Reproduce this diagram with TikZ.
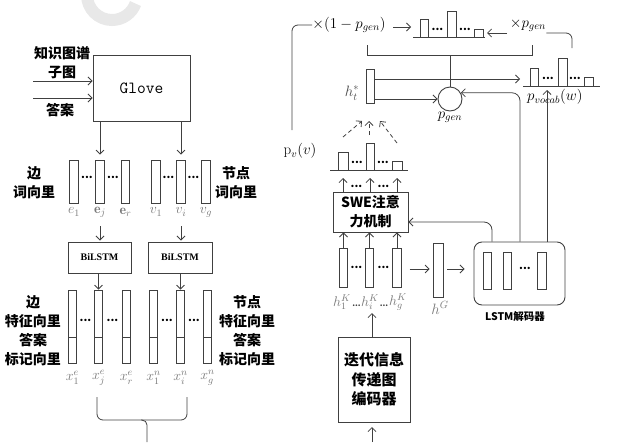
\RequirePackage{fix-cm}
\documentclass[tikz,border=0pt]{standalone}
\usepackage{fontspec}
\newfontfamily\cjk{Noto Sans CJK SC}
\newfontfamily\serf{Liberation Serif}
\usetikzlibrary{arrows.meta,calc}
\definecolor{ln}{HTML}{404040}
\definecolor{lab}{HTML}{7A7A7A}
\tikzset{
  arr/.style={draw=ln, line width=0.8pt, -{Straight Barb[length=4pt,width=8pt]}},
  ln/.style={draw=ln, line width=0.8pt},
  dsh/.style={draw=ln, line width=0.8pt, dash pattern=on 4pt off 3pt, -{Straight Barb[length=4pt,width=8pt]}},
  vec/.style={draw=ln, line width=0.8pt, rectangle, inner sep=0pt, minimum width=8.5pt},
  boxn/.style={draw=ln, line width=0.9pt, rectangle, inner sep=0pt},
  zh/.style={font=\cjk\bfseries\fontsize{14}{19}\selectfont, align=center, inner sep=0pt},
  lbl/.style={text=lab, inner sep=0pt, font=\fontsize{14}{16}\selectfont},
  mth/.style={inner sep=0pt, font=\fontsize{15}{17}\selectfont},
  dts/.style={inner sep=0pt, font=\cjk\bfseries\fontsize{11}{12}\selectfont},
  bar/.style={draw=ln, line width=0.8pt},
}
\begin{document}
\begin{tikzpicture}[x=1pt,y=-1pt]
\useasboundingbox (0,0) rectangle (623,442);
% watermark
\draw[line width=12pt, black!9] (87,-5) arc[start angle=180, end angle=20, radius=25];

% ---------------- left part ----------------
\node[boxn, minimum width=97pt, minimum height=66pt, font=\ttfamily\fontsize{17}{19}\selectfont] (glove) at (141.5,88) {Glove};
\node[zh] (lkg) at (62,62.5) {知识图谱\\子图};
\node[zh] (lans) at (60,110) {答案};
\coordinate (kgin) at (33,81);
\coordinate (ansin) at (33,98);
\draw[arr] (kgin) -- (kgin -| glove.west);
\draw[arr] (ansin) -- (ansin -| glove.west);

% word vectors
\foreach \n/\x in {e1/74, ej/100, er/125.5, v1/156, vi/181, vg/206}
  \node[vec, minimum height=43pt] (\n) at (\x,181.5) {};
\foreach \n/\x in {d1/87, d2/113, d3/168.5, d4/193.5}
  \node[dts] (\n) at (\x,177) {...};
\node[lbl] (e1l) at (74,212) {$e_1$};
\node[lbl] (ejl) at (100,212) {$\mathbf{e}_j$};
\node[lbl] (erl) at (125.5,212) {$\mathbf{e}_r$};
\node[lbl] (v1l) at (156,212) {$v_1$};
\node[lbl] (vil) at (181,212) {$v_i$};
\node[lbl] (vgl) at (206,212) {$v_g$};
\node[zh] (ledge) at (34,182.5) {边\\词向里};
\node[zh] (lnode) at (236,182.5) {节点\\词向里};
\draw[arr, shorten >=5pt] (glove.south -| ej.north) -- (ej.north);
\draw[arr, shorten >=5pt] (glove.south -| vi.north) -- (vi.north);

% BiLSTM
\node[boxn, minimum width=63pt, minimum height=31pt, font=\serf\bfseries\fontsize{10}{12}\selectfont] (bl1) at (99.5,257.5) {BiLSTM};
\node[boxn, minimum width=64pt, minimum height=31pt, font=\serf\bfseries\fontsize{10}{12}\selectfont] (bl2) at (180,257.5) {BiLSTM};
\coordinate (a1) at (100,226);
\coordinate (a2) at (181,226);
\draw[arr, shorten >=1pt] (a1) -- (a1 |- bl1.north);
\draw[arr, shorten >=1pt] (a2) -- (a2 |- bl2.north);

% feature vectors
\foreach \n/\x in {x1/72.5, xj/98.5, xr/126.5, n1/153.5, ni/180.5, ng/207.5}{
  \node[vec, minimum height=73pt] (\n) at (\x,326.5) {};
  \draw[ln] (\x-4.25,337) -- (\x+4.25,337);
}
\draw[arr] (bl1.south -| xj.north) -- (xj.north);
\draw[arr] (bl2.south -| ni.north) -- (ni.north);
\foreach \n/\x in {f1/85.5, f2/112.5, f3/167, f4/194}
  \node[dts] (\n) at (\x,320) {...};
\node[lbl] (x1l) at (72.5,378) {$x_1^e$};
\node[lbl] (xjl) at (98.5,378) {$x_j^e$};
\node[lbl] (xrl) at (126.5,378) {$x_r^e$};
\node[lbl] (n1l) at (153.5,378) {$x_1^n$};
\node[lbl] (nil) at (180.5,378) {$x_i^n$};
\node[lbl] (ngl) at (207.5,378) {$x_g^n$};
\node[zh] (lfe) at (33,331) {边\\特征向里\\答案\\标记向里};
\node[zh] (lfn) at (247,331) {节点\\特征向里\\答案\\标记向里};

% bottom bracket
\coordinate (bl) at (97,397);
\coordinate (br) at (187,397);
\coordinate (bm) at (147,442);
\draw[ln, rounded corners=6pt] (bl) |- (br |- 0,420) -- (br);
\draw[ln, rounded corners=5pt] (141,420) -| (bm);

% ---------------- right part ----------------
% top distribution and multipliers
\node[mth] (tm1) at (349,25) {$\times(1-p_{gen})$};
\node[mth] (tm2) at (528,25) {$\times p_{gen}$};
\draw[ln] (413,37) -- (485,37);
\draw[bar] (420,19) rectangle (428,37);
\draw[bar] (447,11) rectangle (456,37);
\draw[bar] (474,29) rectangle (483,37);
\node[dts] (t1) at (437.5,29) {...};
\node[dts] (t2) at (465,29) {...};
\coordinate (ta1) at (393,27);
\coordinate (ta2) at (411,27);
\draw[arr] (ta1) -- (ta2);
\coordinate (tb1) at (507,33);
\coordinate (tb2) at (487,33);
\draw[arr] (tb1) -- (tb2);
\coordinate (pvtop) at (292,130);
\draw[ln, rounded corners=6pt] (pvtop) |- (tm1.west);
\coordinate (rt) at (572,48);
\draw[ln, rounded corners=6pt] (tm2.east |- 0,33) -| (rt);
\node[inner sep=0pt, font=\fontsize{15}{17}\selectfont] (pvl) at (300,151) {$\mathrm{p}_v(v)$};

% pgen circle
\node[draw=ln, line width=0.9pt, circle, minimum size=24pt, inner sep=0pt] (pg) at (450,99) {};
\node[mth] (pgl) at (450,117) {$p_{gen}$};
\draw[ln] (367,45) -- (367,55) -- (532,55) -- (532,45);
\draw[ln] (pg.north) -- (pg.north |- 0,55);

% h_t^*
\node[vec, minimum width=8pt, minimum height=34pt] (ht) at (370,86) {};
\node[mth, text=black!70] (htl) at (352,93) {$h_t^*$};
\coordinate (vocin) at (520,79);
\draw[arr] ($(ht.east)+(0,-7)$) -- (vocin);
\draw[arr] (ht.east |- pg.west) -- (pg.west);

% vocab distribution
\draw[ln] (523,86) -- (600,86);
\draw[bar] (530,68) rectangle (538,86);
\draw[bar] (558,58) rectangle (567,86);
\draw[bar] (584,77) rectangle (593,86);
\node[dts] (w1) at (548,78) {...};
\node[dts] (w2) at (575,78) {...};
\node[mth, anchor=west] (pvoc) at (527,97) {$p_{vocab}(w)$};

% small distribution p_v
\draw[ln] (330,170) -- (408,170);
\draw[bar] (338,152) rectangle (348,170);
\draw[bar] (366,143) rectangle (374,170);
\draw[bar] (392,161) rectangle (402,170);
\node[dts] (s1) at (357,162) {...};
\node[dts] (s2) at (383,162) {...};
\coordinate (ds1) at (343,137);
\coordinate (ds2) at (369,135);
\coordinate (ds3) at (397,143);
\draw[dsh] (ds1) -- (362,121);
\draw[dsh] (ds2) -- (369,121);
\draw[dsh] (ds3) -- (380,121);

% SWE attention
\node[boxn, minimum width=75pt, minimum height=40pt, zh] (swe) at (370.5,212) {SWE注意\\力机制};
\foreach \x in {343,370,397}
  \draw[arr] (\x,192) -- (\x,178);
\node[dts] (u1) at (356.5,186) {...};
\node[dts] (u2) at (383.5,186) {...};

% h^K vectors
\node[vec, minimum height=39pt] (hk1) at (343.5,267.5) {};
\node[vec, minimum height=39pt] (hk2) at (369.5,267.5) {};
\node[vec, minimum height=39pt] (hk3) at (397,267.5) {};
\foreach \n in {hk1,hk2,hk3}
  \draw[arr] (\n.north) -- (\n.north |- swe.south);
\node[dts] (k1) at (356.5,267) {...};
\node[dts] (k2) at (383.5,267) {...};
\node[lbl] (hk1l) at (342,302) {$h_1^K$};
\node[lbl] (hk2l) at (370,302) {$h_i^K$};
\node[lbl] (hk3l) at (398,302) {$h_g^K$};
\node[dts, text=ln, font=\cjk\bfseries\fontsize{8}{9}\selectfont] (k3) at (356.5,306) {...};
\node[dts, text=ln, font=\cjk\bfseries\fontsize{8}{9}\selectfont] (k4) at (384,306) {...};

% h^G
\node[vec, minimum width=10pt, minimum height=54pt] (hg) at (438,270) {};
\node[lbl, font=\fontsize{15}{17}\selectfont] (hgl) at (440,308) {$h^G$};
\draw[arr, shorten <=8pt, shorten >=3pt] (hk3.east |- 0,269) -- (hg.west |- 0,269);

% decoder
\node[draw=ln, line width=0.9pt, rounded corners=8pt, minimum width=91pt, minimum height=63pt, inner sep=0pt] (dec) at (519.5,273.5) {};
\node[vec, minimum height=37pt] (dd1) at (487.5,270.5) {};
\node[vec, minimum height=37pt] (dd2) at (507.5,270.5) {};
\node[vec, minimum height=37pt] (dd3) at (542,270.5) {};
\node[dts] (dd4) at (525,268) {...};
\node[zh, font=\cjk\bfseries\fontsize{10.5}{12}\selectfont] (decl) at (515,317) {LSTM解码器};
\draw[arr, shorten <=4pt, shorten >=9pt] (hg.east |- 0,269) -- (dec.west |- 0,269);

% decoder outputs
\draw[arr, rounded corners=8pt] (dec.north -| 492,0) |- ($(swe.east)+(0,10)$);
\draw[arr, rounded corners=8pt] (dec.north -| 520,0) |- (pg.30);
\coordinate (vocup) at (547,90);
\draw[arr] (dec.north -| vocup) -- (vocup);

% encoder
\node[boxn, minimum width=72pt, minimum height=85pt, zh, font=\cjk\bfseries\fontsize{15}{19.5}\selectfont] (enc) at (374,379.5) {迭代信息\\传递图\\编码器};
\coordinate (hkin) at (372,313);
\draw[arr] (enc.north -| hkin) -- (hkin);
\coordinate (encin) at (372,442);
\draw[arr] (encin) -- (372,427);
\end{tikzpicture}
\end{document}
